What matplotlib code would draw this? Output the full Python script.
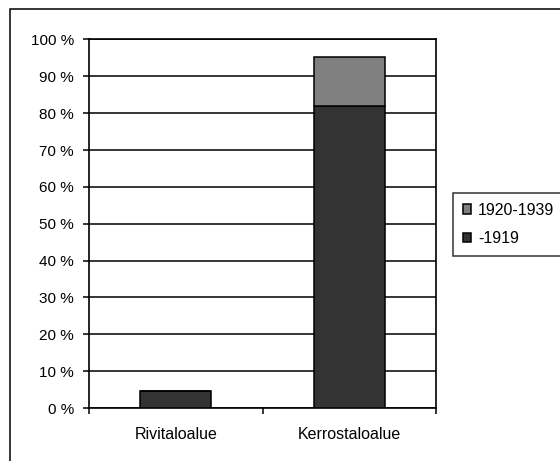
import matplotlib
matplotlib.use("Agg")
import matplotlib.pyplot as plt
from matplotlib.patches import Rectangle
from matplotlib.ticker import FuncFormatter, MultipleLocator

plt.rcParams['font.family'] = ['Liberation Sans', 'DejaVu Sans']

categories = ["Rivitaloalue", "Kerrostaloalue"]
series_names = ["-1919", "1920-1939"]
pre_1919 = [4.6, 82.0]
y1920_1939 = [0.0, 13.3]
colors = ["#333333", "#808080"]

W, H = 560, 461
fig = plt.figure(figsize=(W / 100, H / 100), dpi=100)
fig.patch.set_facecolor("white")

# outer chart frame (runs past the right and bottom edges)
fig.patches.append(Rectangle((9.5 / W, -0.05), 1.2, 1 - 8.5 / H + 0.05,
                             transform=fig.transFigure, fill=False,
                             edgecolor="black", linewidth=1.1, zorder=0))

left, right, top, bottom = 89, 436, 39.5, 408
ax = fig.add_axes([left / W, 1 - bottom / H, (right - left) / W, (bottom - top) / H])

x = [0, 1]
bw = 0.41
ax.bar(x, pre_1919, width=bw, color=colors[0], edgecolor="black", linewidth=1.1,
       label=series_names[0], zorder=3)
ax.bar(x, y1920_1939, width=bw, bottom=pre_1919, color=colors[1], edgecolor="black",
       linewidth=1.1, label=series_names[1], zorder=3)

ax.set_xlim(-0.5, 1.5)
ax.set_ylim(0, 100)
ax.yaxis.set_major_locator(MultipleLocator(10))
ax.yaxis.set_major_formatter(FuncFormatter(lambda v, p: f"{int(v)} %"))
ax.grid(axis="y", color="black", linewidth=1.1, zorder=1)
ax.set_axisbelow(True)

ax.set_xticks([-0.5, 0.5, 1.5])
ax.set_xticklabels([])
ax.set_xticks(x, minor=True)
ax.set_xticklabels(categories, minor=True)
ax.tick_params(axis="x", which="minor", length=0, pad=14, labelsize=11.5)
ax.tick_params(axis="x", which="major", direction="out", length=4.3, width=1.1)
ax.tick_params(axis="y", direction="out", length=4.3, width=1.1, labelsize=11, pad=6.5)

for s in ax.spines.values():
    s.set_linewidth(1.2)
    s.set_color("black")

handles, labels = ax.get_legend_handles_labels()
leg = fig.legend(handles[::-1], labels[::-1], loc="upper left",
                 bbox_to_anchor=(453 / W, 1 - 193 / H), frameon=True,
                 fancybox=False, edgecolor="black", fontsize=11.5,
                 handlelength=0.55, handleheight=0.55, handletextpad=0.4,
                 borderpad=0.6, labelspacing=0.85, borderaxespad=0)
leg.get_frame().set_linewidth(1.1)

fig.savefig("out.png", dpi=100)
